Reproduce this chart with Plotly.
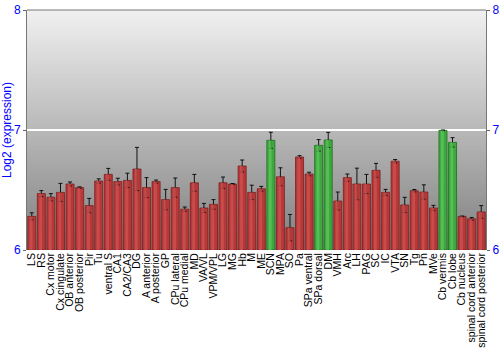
import plotly.graph_objects as go

categories = ["LS", "RS", "Cx motor", "Cx cingulate", "OB anterior", "OB posterior", "Pir", "Tu",
              "ventral S", "CA1", "CA2/CA3", "DG", "A anterior", "A posterior", "GP", "CPu lateral",
              "CPu medial", "MD", "VA/VL", "VPM/VPL", "LG", "MG", "Hb", "M", "ME", "SCN", "MPA", "SO",
              "Pa", "SPa ventral", "SPa dorsal", "DM", "VMH", "Arc", "LH", "PAG", "SC", "IC", "VTA",
              "SN", "Tg", "Pn", "MVe", "Cb vermis", "Cb lobe", "Cb nucleus", "spinal cord anterior",
              "spinal cord posterior"]
values = [6.28, 6.47, 6.44, 6.48, 6.55, 6.52, 6.37, 6.575,
          6.63, 6.57, 6.58, 6.675, 6.52, 6.57, 6.42, 6.52,
          6.34, 6.56, 6.35, 6.38, 6.56, 6.55, 6.70, 6.48, 6.51, 6.914, 6.61, 6.186,
          6.775, 6.633, 6.872, 6.917, 6.408, 6.603, 6.55, 6.55, 6.664, 6.48, 6.74,
          6.375, 6.494, 6.483, 6.35, 6.997, 6.897, 6.28, 6.26, 6.317]
errors = [0.03, 0.025, 0.03, 0.075, 0.017, 0.006, 0.06, 0.018,
          0.05, 0.028, 0.06, 0.18, 0.083, 0.013, 0.085, 0.08,
          0.018, 0.07, 0.038, 0.04, 0.048, 0.004, 0.05, 0.06, 0.02, 0.067, 0.075, 0.11,
          0.011, 0.015, 0.048, 0.063, 0.075, 0.03, 0.132, 0.08, 0.058, 0.025, 0.014,
          0.064, 0.01, 0.06, 0.022, 0.003, 0.039, 0.003, 0.011, 0.053]
highlight = {"SCN", "SPa dorsal", "DM", "Cb vermis", "Cb lobe"}

colors = ["#3ea83e" if c in highlight else "#b83838" for c in categories]
edge = ["#1f6e1f" if c in highlight else "#7a1e1e" for c in categories]
shine = ["#5cc45c" if c in highlight else "#cc5252" for c in categories]

fig = go.Figure()

# gradient background bands
n = 80
top = (240, 240, 240)
bot = (128, 128, 128)
shapes = []
for i in range(n):
    t = i / (n - 1)
    r = [round(top[k] + (bot[k] - top[k]) * t) for k in range(3)]
    shapes.append(dict(type="rect", xref="paper", yref="paper", x0=0, x1=1,
                       y0=max(0, 1 - (i + 2) / n), y1=1 - i / n,
                       fillcolor="rgb(%d,%d,%d)" % tuple(r),
                       line=dict(width=0), layer="below"))

fig.add_trace(go.Bar(x=categories, y=[v - 6 for v in values], base=6,
                     marker=dict(color=colors, line=dict(color=edge, width=0.8)),
                     width=0.84,
                     error_y=dict(type="data", array=errors, color="#111111", thickness=1, width=2),
                     hoverinfo="skip"))
fig.add_trace(go.Bar(x=categories, y=[v - 6 for v in values], base=6,
                     marker=dict(color=shine, line=dict(width=0)),
                     width=0.3, offset=-0.22, opacity=0.8, hoverinfo="skip"))

fig.add_trace(go.Scatter(x=[categories[0]], y=[6], yaxis="y2", mode="markers",
                         marker=dict(opacity=0), showlegend=False, hoverinfo="skip"))

fig.update_layout(
    width=500, height=350,
    margin=dict(l=27, r=14, t=10, b=100, autoexpand=False),
    barmode="overlay",
    showlegend=False,
    paper_bgcolor="white",
    plot_bgcolor="rgba(0,0,0,0)",
    shapes=shapes,
    font=dict(family="Liberation Sans, Arial, sans-serif", size=11, color="black"),
    xaxis=dict(tickangle=-90, tickfont=dict(size=10.5, color="black"), showgrid=False,
               tickmode="array", tickvals=categories, ticktext=categories, automargin=False,
               ticks="", range=[-0.5, len(categories) - 0.5], showline=False),
    yaxis=dict(range=[6, 8], tickvals=[6, 7, 8], tickfont=dict(size=12, color="#0000ff"),
               title=dict(text="Log2 (expression)", font=dict(size=12, color="#0000ff"), standoff=4),
               showgrid=True, gridcolor="white", gridwidth=1.5, zeroline=False, automargin=False,
               ticks="outside", ticklen=3, tickcolor="#666666",
               showline=True, linecolor="#777777", linewidth=1, mirror=False),
    yaxis2=dict(range=[6, 8], tickvals=[6, 7, 8], overlaying="y", side="right",
                tickfont=dict(size=12, color="#0000ff"), showgrid=False, zeroline=False,
                ticks="outside", ticklen=3, tickcolor="#666666", automargin=False,
                showline=True, linecolor="#777777", linewidth=1),
)
fig.add_shape(type="line", xref="paper", yref="paper", x0=0, x1=1, y0=1, y1=1,
              line=dict(color="#777777", width=1))

fig.write_html("out.html")
